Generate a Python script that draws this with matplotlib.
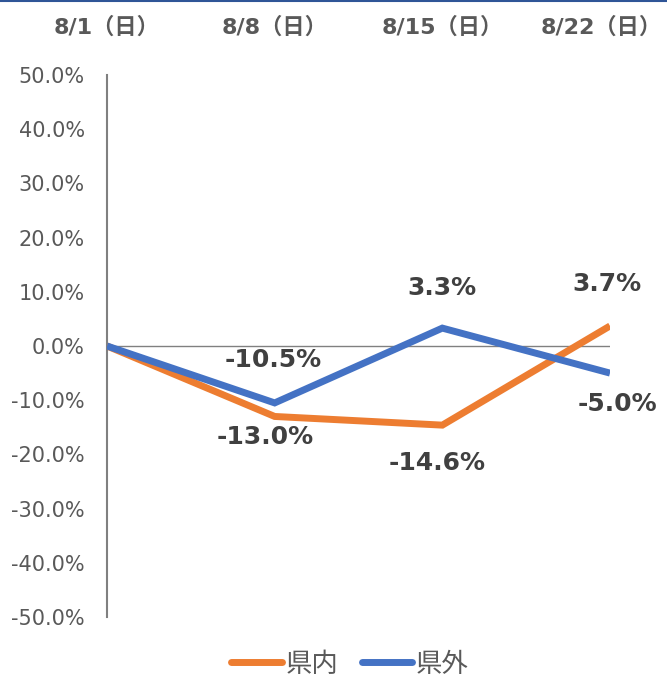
import matplotlib
matplotlib.use('Agg')
import matplotlib.pyplot as plt
import matplotlib.transforms as mtransforms
from matplotlib.lines import Line2D


# weekly change rate, inside vs outside the prefecture
weeks: list = ['8/1（日）', '8/8（日）', '8/15（日）', '8/22（日）']
kennai: list = [0.0, -13.0, -14.6, 3.7]
kengai: list = [0.0, -10.5, 3.3, -5.0]
series_names: list = ['県内', '県外']
y_ticks: list = [-50, -40, -30, -20, -10, 0, 10, 20, 30, 40, 50]

orange: str = '#ED7D31'
blue: str = '#4472C4'
text_gray: str = '#595959'
label_dark: str = '#404040'
axis_gray: str = '#808080'
fonts: list = ['DejaVu Sans', 'Noto Sans CJK JP']

plt.rcParams['font.family'] = fonts

fig = plt.figure(figsize = (6.67, 6.81), dpi = 100)
ax = fig.add_axes((107 / 667, 64 / 681, 503 / 667, 542 / 681))

x = range(len(weeks))
ax.plot(x, kennai, color = orange, linewidth = 5, solid_capstyle = 'butt', solid_joinstyle = 'miter',
        label = series_names[0], zorder = 3)
ax.plot(x, kengai, color = blue, linewidth = 5, solid_capstyle = 'butt', solid_joinstyle = 'miter',
        label = series_names[1], zorder = 4)
ax.axhline(0, color = axis_gray, linewidth = 1.0, zorder = 2)

ax.set_xlim(0, len(weeks) - 1)
ax.set_ylim(-50, 50)
ax.set_yticks(y_ticks)
ax.set_yticklabels([f'{v:.1f}%' for v in y_ticks], fontsize = 15, color = text_gray)
ax.tick_params(axis = 'y', length = 0, pad = 16)

ax.xaxis.tick_top()
ax.set_xticks(list(x))
ax.set_xticklabels(weeks, fontsize = 16, fontweight = 'bold', color = text_gray)
ax.tick_params(axis = 'x', length = 0, pad = 27)

# the last category label is nudged left so it stays inside the picture
last_label = ax.get_xticklabels()[-1]
last_label.set_transform(last_label.get_transform() + mtransforms.ScaledTranslation(-9 / 100, 0, fig.dpi_scale_trans))

for side in ['top', 'right', 'bottom']:
    ax.spines[side].set_visible(False)
ax.spines['left'].set_color(axis_gray)
ax.spines['left'].set_linewidth(1.5)

# data labels (offsets in points, placed like the original)
kennai_offsets: list = [None, (-7, -15), (-4, -27), (-2, 30)]
kengai_offsets: list = [None, (-1, 31), (0, 29), (5, -22)]
for values, offsets in [(kennai, kennai_offsets), (kengai, kengai_offsets)]:
    for i, (v, off) in enumerate(zip(values, offsets)):
        if off is None:
            continue
        ax.annotate(f'{v:.1f}%', xy = (i, v), xytext = off, textcoords = 'offset points',
                    ha = 'center', va = 'center', fontsize = 18, fontweight = 'bold',
                    color = label_dark, zorder = 5, annotation_clip = False)

legend = fig.legend(loc = 'center', bbox_to_anchor = (0.525, 0.024), ncol = 2, frameon = False,
                    handlelength = 1.9, handletextpad = 0.15, columnspacing = 0.9,
                    prop = {'family': fonts, 'size': 19}, borderaxespad = 0, borderpad = 0)
for text in legend.get_texts():
    text.set_color(text_gray)
for line in legend.get_lines():
    line.set_solid_capstyle('round')

fig.add_artist(Line2D([0, 1], [0.9985, 0.9985], transform = fig.transFigure, color = '#2F5597', linewidth = 1.5))

fig.savefig('out.png', dpi = 100)
